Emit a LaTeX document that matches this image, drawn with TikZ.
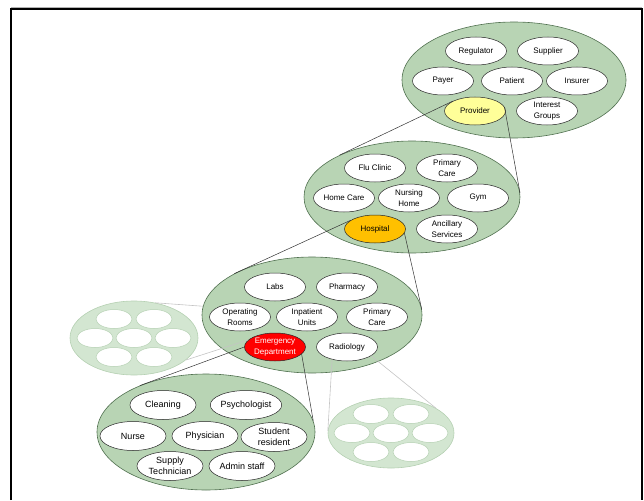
\documentclass[tikz,border=0pt]{standalone}
\usepackage{fontspec}
\setmainfont{Liberation Sans}
\usetikzlibrary{shapes.geometric}
\definecolor{clgreen}{HTML}{B8D4B4}
\definecolor{clborder}{HTML}{50704F}
\definecolor{fdgreen}{HTML}{D3E6D1}
\definecolor{fdborder}{HTML}{B5D0B2}
\definecolor{fdline}{HTML}{C4C4C4}
\definecolor{provyellow}{HTML}{FFFF99}
\definecolor{hospgold}{HTML}{FFC000}
\definecolor{edred}{HTML}{FF0000}
\begin{document}
\begin{tikzpicture}[x=1pt,y=-1pt,
  cluster/.style={ellipse, draw=clborder, fill=clgreen, line width=0.6pt, inner sep=0pt},
  faded/.style={ellipse, draw=fdborder, fill=fdgreen, line width=0.6pt, inner sep=0pt},
  item/.style={ellipse, draw=black!85, fill=white, line width=0.5pt, minimum width=61pt, minimum height=28pt, inner sep=0pt, align=center, font=\fontsize{8}{10.5}\selectfont},
  bigitem/.style={item, minimum width=66pt, minimum height=29pt, font=\fontsize{9}{11.5}\selectfont},
  fitem/.style={ellipse, draw=fdborder, fill=white, line width=0.5pt, minimum width=36pt, minimum height=19pt, inner sep=0pt},
  zoomline/.style={draw=black!80, line width=0.5pt},
  fadeline/.style={draw=fdline, line width=0.6pt},
  frameline/.style={draw=black, line width=2pt}]
\useasboundingbox (0,0) rectangle (644,500);
% frame
\draw[gray!60, line width=1pt] (11,7.5) -- (642,7.5);
\draw[frameline] (11,500) -- (11,9.5) -- (642,9.5) -- (642,500);

% faded clusters
\node[faded, minimum width=128pt, minimum height=74pt] (fl) at (134,338) {};
\node[faded, minimum width=126pt, minimum height=70pt] (fr) at (391,433) {};
\foreach \i/\dx/\dy in {1/-20/-19, 2/20/-19, 3/-39/0, 4/0/0, 5/39/0, 6/-20/19, 7/20/19}{
  \node[fitem] (fl\i) at ([shift={(\dx,\dy)}]fl.center) {};
  \node[fitem] (fr\i) at ([shift={(\dx,\dy)}]fr.center) {};
}
\coordinate (flend) at (310,314);
\draw[fadeline] (fl.59) -- (flend);

% main clusters
\node[cluster, minimum width=224pt, minimum height=116pt] (c1) at (514,80) {};
\node[cluster, minimum width=216pt, minimum height=112pt] (c2) at (412,197) {};
\node[cluster, minimum width=220pt, minimum height=116pt] (c3) at (312,315) {};
\node[cluster, minimum width=218pt, minimum height=116pt] (c4) at (206,432) {};

% cluster 1
\node[item] (reg) at (476,51) {Regulator};
\node[item] (sup) at (548,51) {Supplier};
\node[item] (pay) at (443,81) {Payer};
\node[item] (pat) at (512,81) {Patient};
\node[item] (ins) at (577,81) {Insurer};
\node[item, fill=provyellow] (prov) at (475,111) {Provider};
\node[item] (ig) at (547,111) {Interest\\Groups};
% cluster 2
\node[item] (flu) at (375,168) {Flu Clinic};
\node[item] (pca) at (447,168) {Primary\\Care};
\node[item] (home) at (344,198) {Home Care};
\node[item] (nurs) at (409,198) {Nursing\\Home};
\node[item] (gym) at (478,198) {Gym};
\node[item, fill=hospgold] (hosp) at (375,229) {Hospital};
\node[item] (anc) at (447,229) {Ancillary\\Services};
% cluster 3
\node[item] (labs) at (275,287) {Labs};
\node[item] (pharm) at (347,287) {Pharmacy};
\node[item] (opr) at (240,317) {Operating\\Rooms};
\node[item] (inp) at (307,317) {Inpatient\\Units};
\node[item] (pcb) at (377,317) {Primary\\Care};
\node[item, fill=edred, text=white] (ed) at (275,347) {Emergency\\Department};
\node[item] (rad) at (347,347) {Radiology};
% cluster 4
\node[bigitem] (clean) at (163,405) {Cleaning};
\node[bigitem] (psych) at (246,405) {Psychologist};
\node[bigitem] (nurse) at (133,436) {Nurse};
\node[bigitem] (phys) at (205,436) {Physician};
\node[bigitem] (stud) at (274,437) {Student\\resident};
\node[bigitem] (supt) at (170,466) {Supply\\Technician};
\node[bigitem] (admin) at (242,466) {Admin staff};

% faded connectors
\draw[fadeline] (fl.337) -- (ed.165);
\draw[fadeline] (rad.220) -- (fr.178);
\draw[fadeline] (rad.340) -- (fr.29);

% zoom connectors
\draw[zoomline] (prov.156) -- (c2.150);
\draw[zoomline] (prov.8) -- (c2.2);
\draw[zoomline] (hosp.160) -- (c3.152);
\draw[zoomline] (hosp.352) -- (c3.3);
\draw[zoomline] (ed.180) -- (c4.145);
\draw[zoomline] (ed.345) -- (c4.6);
\end{tikzpicture}
\end{document}
